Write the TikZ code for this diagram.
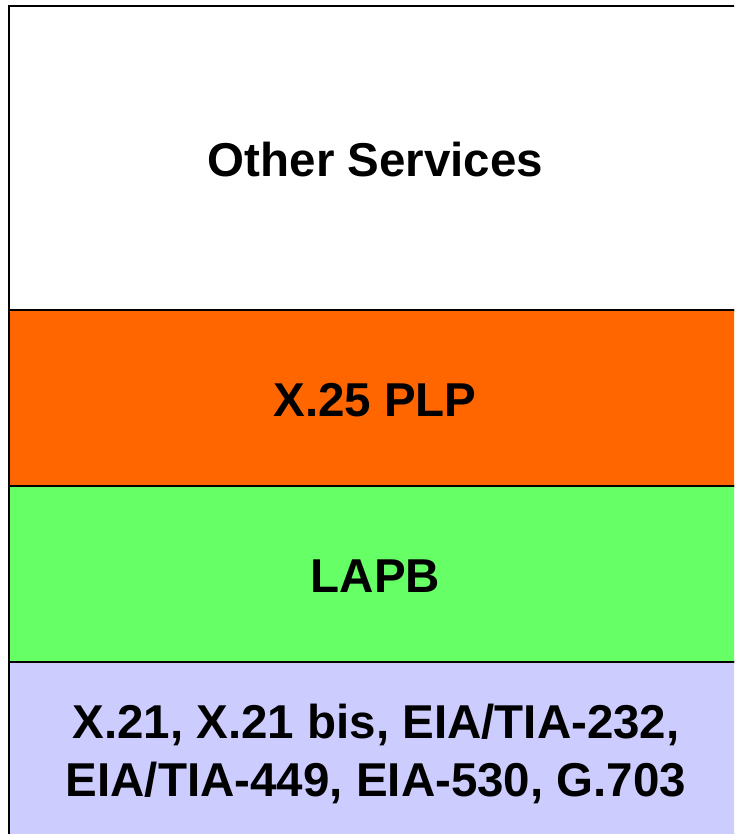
\documentclass[tikz,border=0pt]{standalone}
\usepackage{fontspec}
\setmainfont{Liberation Sans}
\definecolor{plporange}{HTML}{FF6600}
\definecolor{lapbgreen}{HTML}{66FF66}
\definecolor{phylilac}{HTML}{CCCCFF}
\begin{document}
\begin{tikzpicture}[x=1pt,y=-1pt,
  layer/.style={draw=black,line width=2.2pt,rectangle,inner sep=0pt,anchor=north west},
  label/.style={font=\fontsize{47.5}{58}\selectfont\bfseries,anchor=base,inner sep=0pt,align=center}]
  \useasboundingbox (0,0) rectangle (734,834);
  \clip (0,0) rectangle (734,834);
  % protocol stack, top to bottom
  \node[layer,fill=white,minimum width=760pt,minimum height=304pt] (other) at (8,5) {};
  \node[layer,fill=plporange,minimum width=760pt,minimum height=176pt] (plp) at (8,309) {};
  \node[layer,fill=lapbgreen,minimum width=760pt,minimum height=176pt] (lapb) at (8,485) {};
  \node[layer,fill=phylilac,minimum width=760pt,minimum height=200pt] (phy) at (8,661) {};
  % layer names
  \node[label] (othert) at (375.5,177) {Other Services};
  \node[label] (plpt) at (375,416) {X.25 PLP};
  \node[label] (lapbt) at (375.5,592) {LAPB};
  \node[label,anchor=north] (phyt) at (376,704) {\rule{0pt}{34.2pt}X.21, X.21 bis, EIA/TIA-232,\\EIA/TIA-449, EIA-530, G.703};
\end{tikzpicture}
\end{document}
